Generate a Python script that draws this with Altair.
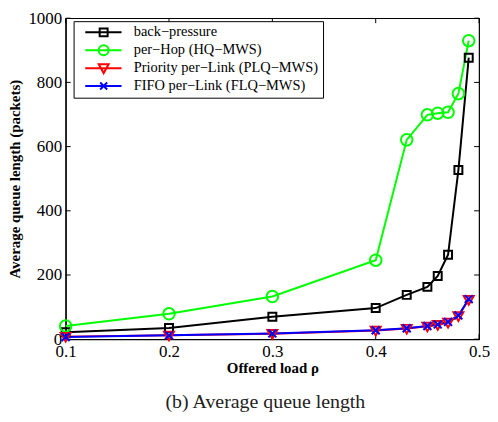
import altair as alt
import pandas as pd

rho = [0.1, 0.2, 0.3, 0.4, 0.43, 0.45, 0.46, 0.47, 0.48, 0.49]
back_pressure = [22, 35, 70, 97, 138, 163, 197, 263, 527, 877]
per_hop = [41, 79, 133, 246, 621, 699, 704, 707, 765, 930]
priority_link = [8, 12, 17, 27, 33, 40, 45, 52, 72, 123]
fifo_link = [7, 12, 18, 28, 34, 41, 46, 54, 74, 125]

series_names = ["back\u2212pressure", "per\u2212Hop (HQ\u2212MWS)",
                "Priority per\u2212Link (PLQ\u2212MWS)", "FIFO per\u2212Link (FLQ\u2212MWS)"]
series_colors = ["#000000", "#00ff00", "#ff0000", "#0000ff"]
x_ticks = [0.1, 0.2, 0.3, 0.4, 0.5]
y_ticks = [0, 200, 400, 600, 800, 1000]
caption = "(b)  Average queue length"

# marker-only paths (unit coords scaled by sqrt(size)/2)
marker_paths = [
    "M-1,-1L1,-1L1,1L-1,1Z",
    "M-1,0A1,1,0,1,0,1,0A1,1,0,1,0,-1,0Z",
    "M-1,-0.75L1,-0.75L0,1Z",
    "M-0.8,-0.8L0.8,0.8M-0.8,0.8L0.8,-0.8",
]
marker_sizes = [64, 135, 100, 100]
# legend paths: line segment through the marker
legend_paths = [
    "M0.1,0L7.4,0M3.0,-0.8L4.6,-0.8L4.6,0.8L3.0,0.8Z",
    "M0.1,0L7.4,0M2.8,0A1,1,0,1,0,4.8,0A1,1,0,1,0,2.8,0Z",
    "M0.1,0L7.4,0M2.8,-0.8L4.8,-0.8L3.8,1.0Z",
    "M0.1,0L7.4,0M3.1,-0.7L4.5,0.7M3.1,0.7L4.5,-0.7",
]

values = [back_pressure, per_hop, priority_link, fifo_link]
rows = []
for name, vals in zip(series_names, values):
    for r, v in zip(rho, vals):
        rows.append({"rho": r, "q": v, "series": name})
df = pd.DataFrame(rows)

W, H = 416, 323
font = "Liberation Serif"

xscale = alt.Scale(domain=[0.1, 0.5], nice=False)
yscale = alt.Scale(domain=[0, 1000], nice=False)
cscale = alt.Scale(domain=series_names, range=series_colors)

x_axis = alt.Axis(values=x_ticks, format=".1f", title="Offered load \u03c1",
                  labelFlush=False, tickSize=0, labelPadding=4, titlePadding=2)
y_axis = alt.Axis(values=y_ticks, format="d", title="Average queue length (packets)",
                  labelFlush=False, tickSize=0, labelPadding=4, titlePadding=5)
x_enc = alt.X("rho:Q", scale=xscale, axis=x_axis)
y_enc = alt.Y("q:Q", scale=yscale, axis=y_axis)

legend_def = alt.Legend(
    title=None, orient="none", legendX=8, legendY=3,
    symbolSize=100, labelOffset=42, rowPadding=0, padding=4,
    strokeColor="black", fillColor="white", labelLimit=400,
    labelFont=font, labelFontSize=14.5, labelColor="black",
    symbolStrokeWidth=2,
)

base = alt.Chart(df)

legend_layer = base.transform_filter("false").mark_point(
    filled=False, strokeWidth=2, opacity=1
).encode(
    x=x_enc, y=y_enc,
    color=alt.Color("series:N", scale=cscale, legend=legend_def),
    shape=alt.Shape("series:N", scale=alt.Scale(domain=series_names, range=legend_paths),
                    legend=legend_def),
)

lines = base.mark_line(strokeWidth=2).encode(
    x=x_enc, y=y_enc,
    color=alt.Color("series:N", scale=cscale, legend=None),
    order=alt.Order("rho:Q"),
)

point_layers = []
for name, path, size in zip(series_names, marker_paths, marker_sizes):
    point_layers.append(
        base.transform_filter(alt.datum.series == name)
        .mark_point(shape=path, size=size, filled=False, strokeWidth=2, opacity=1)
        .encode(x=x_enc, y=y_enc,
                color=alt.Color("series:N", scale=cscale, legend=None))
    )

tick_len = 5
xt = pd.DataFrame({"rho": x_ticks})
yt = pd.DataFrame({"q": y_ticks})
ticks_bottom = alt.Chart(xt).mark_rule(color="black").encode(
    x=x_enc, y=alt.value(H), y2=alt.value(H - tick_len))
ticks_top = alt.Chart(xt).mark_rule(color="black").encode(
    x=x_enc, y=alt.value(0), y2=alt.value(tick_len))
ticks_left = alt.Chart(yt).mark_rule(color="black").encode(
    y=y_enc, x=alt.value(0), x2=alt.value(tick_len))
ticks_right = alt.Chart(yt).mark_rule(color="black").encode(
    y=y_enc, x=alt.value(W), x2=alt.value(W - tick_len))

chart = alt.layer(
    legend_layer, ticks_bottom, ticks_top, ticks_left, ticks_right,
    lines, *point_layers
).properties(
    width=W, height=H,
    background="white",
    padding={"left": 0, "right": 0, "top": 0, "bottom": 0},
    title=alt.TitleParams(text=caption, orient="bottom", anchor="middle", frame="group",
                          dx=-7, font=font, fontSize=20, fontWeight="normal",
                          color="#222222", offset=16),
).configure_view(
    stroke="black", strokeWidth=1.2
).configure_axis(
    grid=False, domainColor="black", domainWidth=1.2,
    labelFont=font, labelFontSize=17, labelColor="black",
    titleFont=font, titleFontSize=15, titleFontWeight="bold", titleColor="black",
)

chart.save("out.html", embed_options={"renderer": "svg", "actions": False})
